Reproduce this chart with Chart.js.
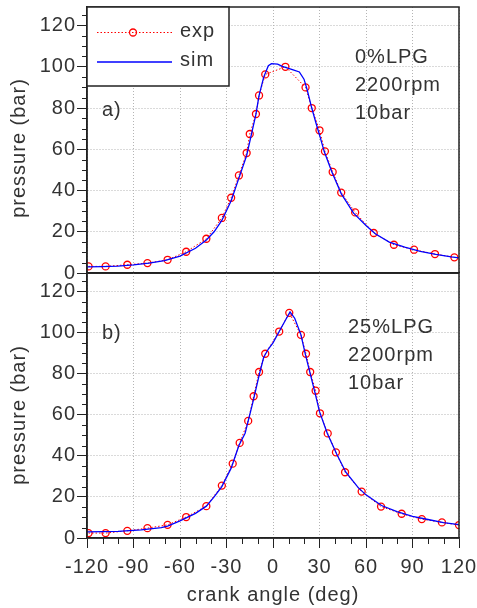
<!DOCTYPE html>
<html>
<head>
<meta charset="utf-8">
<script src="https://cdn.jsdelivr.net/npm/chart.js@4"></script>
<style>
  html, body { margin:0; padding:0; background:#fff; }
  #wrap { position:relative; width:477px; height:608px; overflow:hidden; }
  canvas { position:absolute; left:0; }
  #topChart { top:0; }
  #botChart { top:260px; }
</style>
</head>
<body>
<div id="wrap">
  <canvas id="topChart" width="477" height="290"></canvas>
  <canvas id="botChart" width="477" height="348"></canvas>
</div>
<script>
// a) 0% LPG, 2200 rpm, 10 bar
const expAngleA = [-119, -108, -94, -81, -68, -56, -43, -33, -27, -22, -17, -15, -11, -9, -5, 8, 21, 25, 30, 33.5, 38.5, 44, 53, 65, 78, 91, 104.5, 117];
const expPresA  = [3.2, 3.2, 4.0, 4.8, 6.4, 10.3, 16.6, 26.7, 36.5, 47.3, 58.2, 67.4, 77.1, 86.1, 96.3, 100, 90, 80, 69.2, 59, 49, 39, 29.4, 19.4, 13.7, 11.3, 9.2, 7.6];
const simAngleA = [-120, -110, -100, -90, -80, -70, -60, -50, -43, -38, -33, -27, -22, -17, -14, -11, -9, -6, -3, -1, 3, 6, 9, 13, 17, 20, 22, 25, 28, 30, 33, 38, 44, 52, 60, 66, 75, 85, 95, 105, 115, 120];
const simPresA  = [3, 3.1, 3.3, 3.9, 4.8, 6, 8.2, 12, 16, 20, 25.5, 35, 46, 57, 67, 77, 86, 95, 100.5, 101.5, 101.3, 100.2, 99.5, 98.5, 97.5, 94, 89, 80, 72, 67, 59, 49, 38.5, 29, 23, 19, 15, 12.5, 10.5, 9, 7.8, 7.3];

// b) 25% LPG, 2200 rpm, 10 bar
const expAngleB = [-119, -108, -94, -81, -68, -56, -43, -33, -26, -21.5, -16, -12.5, -9, -5, 4, 10.5, 18, 21.3, 24, 27.5, 30.3, 35.3, 40.6, 46.5, 57.2, 69.7, 83, 96, 109, 120];
const expPresB  = [2.4, 2.4, 3.5, 4.8, 6.4, 10.2, 15.5, 25.5, 36.2, 46.3, 57, 69, 80.8, 89.7, 100.5, 109.6, 98.9, 89.7, 80.8, 71.7, 60.7, 50.9, 41.7, 32, 22.6, 15.3, 11.8, 9.2, 7.6, 6.3];
const simAngleB = [-120, -100, -85, -72, -68, -60, -50, -43, -38, -33, -27, -22, -18, -13, -9, -6, -3, 0, 4, 8, 11, 14, 18, 21, 24, 27, 30, 35, 41, 47, 55, 60, 70, 80, 90, 100, 110, 120];
const simPresB  = [3, 3.2, 4, 5, 5.8, 8.3, 12, 15.5, 20, 25, 34, 45, 51, 66, 79, 88, 92, 95, 100.5, 106, 110, 107, 99, 89, 80, 71, 61.5, 51, 41, 32, 24.5, 21, 15.8, 12.8, 10.5, 9, 7.5, 6.5];

const xTicks = [-120, -90, -60, -30, 0, 30, 60, 90, 120];
const yTicks = [0, 20, 40, 60, 80, 100, 120];
const notesA = ['0%LPG', '2200rpm', '10bar'];
const notesB = ['25%LPG', '2200rpm', '10bar'];

const FONT = 'Arial, "Liberation Sans", sans-serif';
const TXT  = '#333';
const AXIS = '#222';

const toXY = (xs, ys) => xs.map((x, i) => ({ x, y: ys[i] }));

// frame, minor ticks, y title, panel label, notes and legend
const panelPlugin = {
    id: 'panel',
    beforeDraw(chart) { chart.ctx.letterSpacing = '1px'; },
    afterDraw(chart) {
        const o = chart.options.plugins.panel;
        const { ctx, chartArea: a, scales } = chart;
        ctx.save();
        ctx.strokeStyle = AXIS;
        ctx.lineWidth = 1.5;
        ctx.strokeRect(a.left, a.top, a.right - a.left, a.bottom - a.top);

        // minor ticks
        ctx.lineWidth = 1;
        ctx.beginPath();
        for (let v = 5; v < scales.y.max; v += 5) {
            if (v % 20 === 0) continue;
            const py = Math.round(scales.y.getPixelForValue(v)) + 0.5;
            ctx.moveTo(a.left - 5, py); ctx.lineTo(a.left, py);
        }
        if (o.bottom) {
            for (let v = -110; v < 120; v += 10) {
                if (v % 30 === 0) continue;
                const px = Math.round(scales.x.getPixelForValue(v)) + 0.5;
                ctx.moveTo(px, a.bottom); ctx.lineTo(px, a.bottom + 6);
            }
        }
        ctx.stroke();

        ctx.fillStyle = TXT;
        ctx.font = '20px ' + FONT;
        ctx.textBaseline = 'middle';
        ctx.textAlign = 'left';
        ctx.fillText(o.tag, a.left + 15, o.tagY);
        o.notes.forEach((t, i) => ctx.fillText(t, o.noteX, o.noteY + i * 28));

        // y axis title
        ctx.save();
        ctx.translate(19, o.titleY);
        ctx.rotate(-Math.PI / 2);
        ctx.textAlign = 'center';
        ctx.fillText('pressure (bar)', 0, 0);
        ctx.restore();

        if (o.legend) {
            const lx = a.left, ly = a.top, lw = 142, lh = 79;
            ctx.fillStyle = '#fff';
            ctx.fillRect(lx, ly, lw, lh);
            ctx.strokeStyle = AXIS;
            ctx.lineWidth = 1.5;
            ctx.strokeRect(lx, ly, lw, lh);
            const ds = chart.data.datasets;
            const exp = ds.find(d => d.label === 'exp');
            const sim = ds.find(d => d.label === 'sim');
            ctx.strokeStyle = exp.borderColor;
            ctx.lineWidth = 1;
            ctx.setLineDash(exp.borderDash);
            ctx.beginPath(); ctx.moveTo(lx + 10, ly + 25.5); ctx.lineTo(lx + 85, ly + 25.5); ctx.stroke();
            ctx.setLineDash([]);
            ctx.lineWidth = 1.3;
            ctx.beginPath(); ctx.arc(lx + 46, ly + 25.5, 3.5, 0, Math.PI * 2); ctx.stroke();
            ctx.strokeStyle = sim.borderColor;
            ctx.beginPath(); ctx.moveTo(lx + 10, ly + 55); ctx.lineTo(lx + 85, ly + 55); ctx.stroke();
            ctx.fillStyle = TXT;
            ctx.fillText('exp', lx + 93, ly + 24);
            ctx.fillText('sim', lx + 93, ly + 53);
        }
        ctx.restore();
    }
};

function makeChart(id, expX, expY, simX, simY, bottom, panel) {
    return new Chart(document.getElementById(id), {
        type: 'line',
        data: {
            datasets: [
                { label:'sim', data: toXY(simX, simY), borderColor:'#0000ff', borderWidth:1.3, pointRadius:0, tension:0, order:0 },
                { label:'exp', data: toXY(expX, expY), borderColor:'#ff0000', borderWidth:1, borderDash:[1.5, 2],
                  pointStyle:'circle', pointRadius:3.5, pointBorderWidth:1.3, pointBorderColor:'#ff0000',
                  pointBackgroundColor:'rgba(0,0,0,0)', tension:0, order:1 }
            ]
        },
        options: {
            responsive:false, animation:false, devicePixelRatio:1,
            layout: { padding: { top: bottom ? 13 : 7, right:18, left:0, bottom:0 } },
            plugins: { legend:{ display:false }, tooltip:{ enabled:false }, panel },
            scales: {
                x: {
                    type:'linear', min:-120, max:120,
                    afterBuildTicks: s => { s.ticks = xTicks.map(v => ({ value:v })); },
                    afterFit: s => { s.height = bottom ? 70 : 17; s.paddingLeft = 0; s.paddingRight = 0; },
                    ticks: { display:bottom, color:TXT, font:{ family:FONT, size:20 }, padding:7, maxRotation:0, autoSkip:false },
                    grid: { color:'#b4b4b4', drawTicks:bottom, tickLength:10, tickColor:AXIS, tickBorderDash:[] },
                    border: { color:AXIS, width:1.5, dash:[1, 2] },
                    title: { display:bottom, text:'crank angle (deg)', color:TXT, font:{ family:FONT, size:20 }, padding:{ top:0, bottom:1 } }
                },
                y: {
                    min:0, max:129,
                    afterBuildTicks: s => { s.ticks = yTicks.map(v => ({ value:v })); },
                    afterFit: s => { s.width = 87; s.paddingTop = 0; s.paddingBottom = 0; },
                    ticks: { color:TXT, font:{ family:FONT, size:20 }, padding:1 },
                    grid: { color:'#b4b4b4', tickLength:10, tickColor:AXIS, tickBorderDash:[] },
                    border: { color:AXIS, width:1.5, dash:[1, 2] }
                }
            }
        },
        plugins: [panelPlugin]
    });
}

makeChart('topChart', expAngleA, expPresA, simAngleA, simPresA, false,
    { bottom:false, legend:true, tag:'a)', tagY:110, notes:notesA, noteX:355, noteY:57, titleY:148 });
makeChart('botChart', expAngleB, expPresB, simAngleB, simPresB, true,
    { bottom:true, legend:false, tag:'b)', tagY:73, notes:notesB, noteX:348, noteY:67, titleY:155 });
</script>
</body>
</html>
